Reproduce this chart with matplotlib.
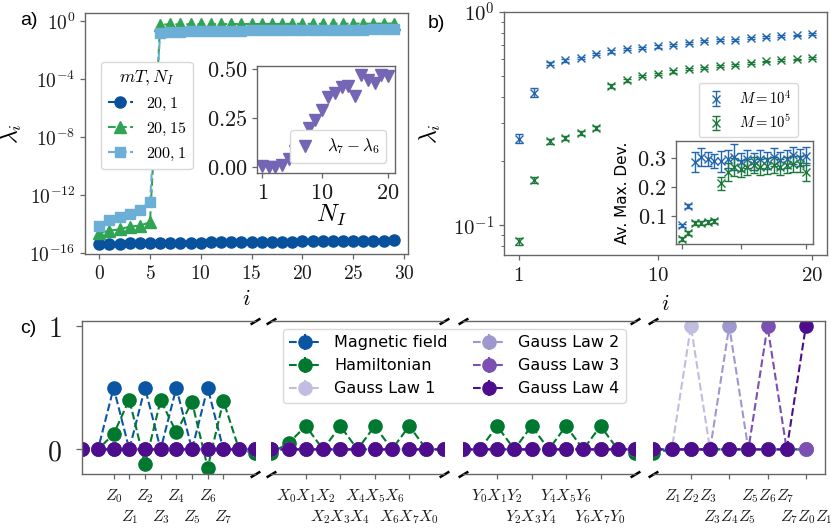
import numpy as np
import matplotlib
matplotlib.use('Agg')
import matplotlib.pyplot as plt
from matplotlib.ticker import FixedLocator, NullLocator, LogLocator, NullFormatter

plt.rcParams['mathtext.fontset'] = 'cm'
plt.rcParams['font.family'] = ['DejaVu Sans']
plt.rcParams['axes.edgecolor'] = '0.4'
plt.rcParams['axes.linewidth'] = 1.0
plt.rcParams['xtick.color'] = '0.4'
plt.rcParams['ytick.color'] = '0.4'
plt.rcParams['xtick.labelcolor'] = '0.1'
plt.rcParams['ytick.labelcolor'] = '0.1'
plt.rcParams['legend.edgecolor'] = '0.85'

# ---------------- data: panel a ----------------
i_a = np.arange(30)
lam_20_1 = [4.5e-16, 4.6e-16, 4.7e-16, 4.8e-16, 4.9e-16, 5.0e-16, 5.1e-16, 5.2e-16, 5.3e-16, 5.4e-16,
            5.5e-16, 5.6e-16, 5.7e-16, 5.8e-16, 5.9e-16, 6.0e-16, 6.1e-16, 6.2e-16, 6.3e-16, 6.4e-16,
            6.5e-16, 6.6e-16, 6.7e-16, 6.8e-16, 6.9e-16, 7.0e-16, 7.2e-16, 7.4e-16, 7.6e-16, 7.8e-16]
lam_20_15 = [2.6e-15, 3.6e-15, 4.5e-15, 6.9e-15, 8.1e-15, 1.4e-14,
             0.60, 0.62, 0.63, 0.64, 0.64, 0.65, 0.65, 0.66, 0.66, 0.66, 0.67, 0.67,
             0.67, 0.68, 0.68, 0.68, 0.69, 0.69, 0.69, 0.70, 0.70, 0.70, 0.71, 0.71]
lam_200_1 = [7.8e-15, 2.0e-14, 3.4e-14, 5.2e-14, 1.0e-13, 3.7e-13,
             0.16, 0.19, 0.20, 0.21, 0.21, 0.22, 0.22, 0.23, 0.23, 0.24, 0.24, 0.24,
             0.25, 0.25, 0.25, 0.26, 0.26, 0.26, 0.27, 0.27, 0.27, 0.28, 0.28, 0.29]
legend_a = ['$20, 1$', '$20, 15$', '$200, 1$']

# inset a
N_I = np.arange(1, 21)
gap_76 = [0.007, 0.003, 0.003, 0.012, 0.041, 0.080, 0.147, 0.198, 0.240, 0.290,
          0.356, 0.380, 0.407, 0.415, 0.360, 0.470, 0.444, 0.427, 0.470, 0.464]

# ---------------- data: panel b ----------------
i_b = np.arange(1, 21)
lam_M4 = [0.255, 0.418, 0.572, 0.593, 0.608, 0.637, 0.653, 0.668, 0.677, 0.689,
          0.702, 0.715, 0.728, 0.736, 0.743, 0.754, 0.762, 0.768, 0.776, 0.785]
lam_M4_err = [0.012, 0.02, 0.008, 0.008, 0.008, 0.008, 0.008, 0.008, 0.008, 0.008,
              0.008, 0.008, 0.008, 0.008, 0.008, 0.008, 0.008, 0.008, 0.008, 0.008]
lam_M5 = [0.084, 0.163, 0.247, 0.257, 0.272, 0.287, 0.448, 0.478, 0.499, 0.510,
          0.526, 0.538, 0.546, 0.556, 0.566, 0.576, 0.586, 0.593, 0.599, 0.610]
lam_M5_err = [0.003, 0.005, 0.006, 0.006, 0.006, 0.006, 0.01, 0.006, 0.006, 0.006,
              0.006, 0.006, 0.006, 0.006, 0.006, 0.006, 0.006, 0.006, 0.006, 0.006]
dev_M4 = [0.070, 0.136, 0.286, 0.303, 0.297, 0.290, 0.288, 0.297, 0.303, 0.286,
          0.297, 0.288, 0.297, 0.292, 0.303, 0.292, 0.297, 0.309, 0.301, 0.306]
dev_M4_err = [0.006, 0.008, 0.034, 0.031, 0.025, 0.025, 0.035, 0.030, 0.045, 0.030,
              0.030, 0.030, 0.030, 0.028, 0.030, 0.030, 0.030, 0.030, 0.028, 0.030]
dev_M5 = [0.023, 0.044, 0.078, 0.078, 0.081, 0.085, 0.213, 0.253, 0.270, 0.264,
          0.270, 0.275, 0.270, 0.272, 0.275, 0.270, 0.275, 0.280, 0.280, 0.253]
dev_M5_err = [0.008, 0.008, 0.006, 0.006, 0.006, 0.006, 0.022, 0.030, 0.030, 0.028,
              0.028, 0.028, 0.028, 0.028, 0.028, 0.028, 0.028, 0.028, 0.028, 0.030]
legend_b = ['$M = 10^4$', '$M = 10^5$']

# ---------------- data: panel c ----------------
idx_c = np.arange(40)
magnetic = [0, 0, 0.5, 0, 0.5, 0, 0.5, 0, 0.5, 0, 0,
            0, 0, 0, 0, 0, 0, 0, 0, 0, 0,
            0, 0, 0, 0, 0, 0, 0, 0, 0, 0,
            0, 0, 0, 0, 0, 0, 0, 0, 0]
hamiltonian = [0, 0, 0.124, 0.405, -0.122, 0.40, 0.138, 0.386, -0.149, 0.395, 0,
               -0.03, 0.05, 0.19, 0, 0.19, 0, 0.19, 0, 0.19, 0,
               0, 0, 0.19, 0, 0.19, 0, 0.19, 0, 0.19, 0,
               -0.03, 0, 0, 0, 0, 0, 0, 0, 0]
gauss1 = [0] * 33 + [1, 0, 0, 0, 0, 0, 0]
gauss2 = [0] * 33 + [0, 0, 1, 0, 0, 0, 0]
gauss3 = [0] * 33 + [0, 0, 0, 0, 1, 0, 0]
gauss4 = [0] * 33 + [0, 0, 0, 0, 0, 0, 1]
series_c_names = ['Magnetic field', 'Hamiltonian', 'Gauss Law 1', 'Gauss Law 2',
                  'Gauss Law 3', 'Gauss Law 4']
ticks_c = [[2, 3, 4, 5, 6, 7, 8, 9], [13, 15, 17, 19], [23, 25, 27, 29], [33, 35, 37, 39]]
ticklabels_c = [
    ['$Z_0$', '$Z_1$', '$Z_2$', '$Z_3$', '$Z_4$', '$Z_5$', '$Z_6$', '$Z_7$'],
    ['$X_0X_1X_2$', '$X_2X_3X_4$', '$X_4X_5X_6$', '$X_6X_7X_0$'],
    ['$Y_0X_1Y_2$', '$Y_2X_3Y_4$', '$Y_4X_5Y_6$', '$Y_6X_7Y_0$'],
    ['$Z_1Z_2Z_3$', '$Z_3Z_4Z_5$', '$Z_5Z_6Z_7$', '$Z_7Z_0Z_1$'],
]
xlims_c = [(0, 11), (11, 21), (21, 31), (31, 40)]

W, H = 831, 531
fig = plt.figure(figsize=(W / 100, H / 100), dpi=100)


def px_axes(x0, y0, x1, y1):
    return fig.add_axes([x0 / W, 1 - y1 / H, (x1 - x0) / W, (y1 - y0) / H])


def style(ax, size):
    ax.tick_params(direction='out', length=3.5, width=0.9, labelsize=size)


# ---------------- panel a ----------------
axa = px_axes(85, 13, 408, 254)
ca = ['#08519c', '#31a354', '#6baed6']
axa.plot(i_a, lam_20_1, 'o--', color=ca[0], ms=8, lw=1.5, label=legend_a[0])
axa.plot(i_a, lam_20_15, '^--', color=ca[1], ms=8, lw=1.5, label=legend_a[1])
axa.plot(i_a, lam_200_1, 's--', color=ca[2], ms=7.5, lw=1.5, label=legend_a[2])
axa.set_yscale('log')
axa.set_ylim(10 ** -16.05, 10 ** 0.58)
axa.set_xlim(-1.4, 30.4)
axa.yaxis.set_major_locator(FixedLocator([1e-16, 1e-12, 1e-8, 1e-4, 1]))
axa.yaxis.set_minor_locator(NullLocator())
axa.set_yticklabels(['$10^{-16}$', '$10^{-12}$', '$10^{-8}$', '$10^{-4}$', '$10^{0}$'])
axa.set_xticks([0, 5, 10, 15, 20, 25, 30])
axa.set_xticklabels(['$%d$' % v for v in [0, 5, 10, 15, 20, 25, 30]])
style(axa, 14)
axa.set_xlabel('$i$', fontsize=16)
axa.xaxis.set_label_coords(0.5, -0.145)
axa.set_ylabel('$\\lambda_i$', fontsize=17)
axa.yaxis.set_label_coords(-0.19, 0.5)
lga = axa.legend(title='$mT, N_I$', loc='center left', bbox_to_anchor=(0.05, 0.575),
                 borderaxespad=0, fontsize=11.5, title_fontsize=12.5, handlelength=1.6,
                 framealpha=1)

# inset a
axai = px_axes(257, 66, 395, 173)
axai.plot(N_I, gap_76, 'v', color='#7565b5', ms=8, label='$\\lambda_7 - \\lambda_6$')
axai.set_xlim(0.2, 21.1)
axai.set_ylim(-0.03, 0.515)
axai.set_xticks([1, 10, 20])
axai.set_xticklabels(['$1$', '$10$', '$20$'])
axai.set_yticks([0, 0.25, 0.5])
axai.set_yticklabels(['$0.00$', '$0.25$', '$0.50$'])
style(axai, 16)
axai.set_xlabel('$N_I$', fontsize=18)
axai.xaxis.set_label_coords(0.54, -0.275)
axai.legend(loc='lower right', bbox_to_anchor=(0.935, 0.093), borderaxespad=0,
            fontsize=12, handlelength=1.0, framealpha=1)

# ---------------- panel b ----------------
axb = px_axes(504, 12, 827, 255)
cb = ['#2366b0', '#1b7a3a']
axb.errorbar(i_b, lam_M4, yerr=lam_M4_err, fmt='x', ms=6, capsize=3, elinewidth=1,
             color=cb[0], label=legend_b[0])
axb.errorbar(i_b, lam_M5, yerr=lam_M5_err, fmt='x', ms=6, capsize=3, elinewidth=1,
             color=cb[1], label=legend_b[1])
axb.set_yscale('log')
axb.set_ylim(0.0725, 1.0)
axb.set_xlim(0.05, 20.95)
axb.set_xticks([1, 10, 20])
axb.set_xticklabels(['$1$', '$10$', '$20$'])
axb.yaxis.set_major_locator(FixedLocator([0.1, 1.0]))
axb.set_yticklabels(['$10^{-1}$', '$10^{0}$'])
axb.yaxis.set_minor_locator(LogLocator(base=10, subs=np.arange(2, 10)))
axb.yaxis.set_minor_formatter(NullFormatter())
style(axb, 15)
axb.tick_params(which='minor', length=2, width=0.7)
axb.set_xlabel('$i$', fontsize=16)
axb.xaxis.set_label_coords(0.5, -0.16)
axb.set_ylabel('$\\lambda_i$', fontsize=17)
axb.yaxis.set_label_coords(-0.19, 0.5)
axb.legend(loc='upper right', bbox_to_anchor=(0.91, 0.708), borderaxespad=0,
           fontsize=10.5, handlelength=1.6, framealpha=1)

# inset b
axbi = px_axes(676, 141, 813, 244)
axbi.errorbar(i_b, dev_M4, yerr=dev_M4_err, fmt='x', ms=6, capsize=3, elinewidth=1,
              color=cb[0])
axbi.errorbar(i_b, dev_M5, yerr=dev_M5_err, fmt='x', ms=6, capsize=3, elinewidth=1,
              color=cb[1])
axbi.set_xlim(0.15, 21)
axbi.set_ylim(0.006, 0.358)
axbi.set_xticks([1, 10, 20])
axbi.set_xticklabels([])
axbi.set_yticks([0.1, 0.2, 0.3])
axbi.set_yticklabels(['$0.1$', '$0.2$', '$0.3$'])
style(axbi, 16)
axbi.set_ylabel('Av. Max. Dev.', fontsize=11)
axbi.yaxis.set_label_coords(-0.335, 0.5)

# ---------------- panel c ----------------
cc = ['#0a56a4', '#00782f', '#c0bde0', '#9e98cf', '#7c4fb3', '#4d0d8c']
series_c = [magnetic, hamiltonian, gauss1, gauss2, gauss3, gauss4]
c_lefts = [82.3, 271.3, 462.6, 652.6]
c_w = 172.4
axc = []
for k, x0 in enumerate(c_lefts):
    ax = px_axes(x0, 320.7, x0 + c_w, 474)
    axc.append(ax)
    for s, name, col in zip(series_c, series_c_names, cc):
        ax.errorbar(idx_c, s, yerr=0, fmt='o--', ms=9.5, lw=1.5, color=col,
                    elinewidth=1.5, label=name)
    ax.set_xlim(xlims_c[k])
    ax.set_ylim(-0.2, 1.045)
    ax.set_xticks(ticks_c[k])
    ax.set_xticklabels(ticklabels_c[k], fontsize=11.5)
    ax.tick_params(axis='x', direction='out', length=3.5, width=0.9, pad=6)
    for j, t in enumerate(ax.xaxis.get_major_ticks()):
        t.set_pad(6 if j % 2 == 0 else 21.5)
    if k == 0:
        ax.set_yticks([0, 1])
        ax.set_yticklabels(['$0$', '$1$'], fontsize=20)
        ax.tick_params(axis='y', direction='out', length=4, width=0.9, pad=11)
    else:
        ax.set_yticks([])
        ax.spines['left'].set_visible(False)
    if k < 3:
        ax.spines['right'].set_visible(False)

# break marks
mk = dict(marker=[(-1, -0.6), (1, 0.6)], markersize=7, linestyle='none', color='k',
          mec='k', mew=1.8, clip_on=False)
for k in range(3):
    axc[k].plot([1, 1], [0, 1], transform=axc[k].transAxes, **mk)
    axc[k + 1].plot([0, 0], [0, 1], transform=axc[k + 1].transAxes, **mk)

h, l = axc[0].get_legend_handles_labels()
fig.legend(h, l, loc='upper left', bbox_to_anchor=(283 / W, 1 - 329 / H), ncol=2,
           fontsize=11.5, borderaxespad=0, framealpha=1, handlelength=2.0,
           columnspacing=1.6)

# panel labels
fig.text(20.5 / W, 1 - 12 / H, 'a)', fontsize=14, family='Liberation Sans', va='top')
fig.text(428 / W, 1 - 15 / H, 'b)', fontsize=14, family='Liberation Sans', va='top')
fig.text(20.5 / W, 1 - 320 / H, 'c)', fontsize=14, family='Liberation Sans', va='top')

fig.savefig('out.png', dpi=100)
